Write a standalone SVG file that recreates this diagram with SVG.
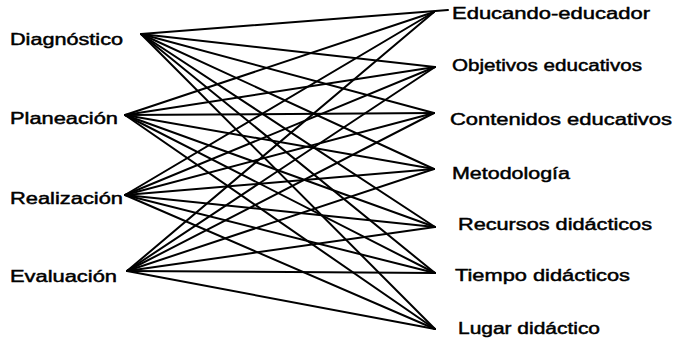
<svg xmlns="http://www.w3.org/2000/svg" width="674" height="338" viewBox="0 0 674 338">
<style>
text{font-family:"Liberation Sans",Arial,sans-serif;font-size:16px;fill:#000;stroke:#000;stroke-width:0.45;}
.c line{stroke:#000;stroke-width:2;stroke-linecap:round;}
</style>
<rect width="674" height="338" fill="#fff"/>
<g class="c" id="connectors">
<line x1="141" y1="34" x2="448" y2="10"/>
<line x1="141" y1="34" x2="435" y2="67"/>
<line x1="141" y1="34" x2="434" y2="113"/>
<line x1="141" y1="34" x2="434" y2="169"/>
<line x1="141" y1="34" x2="435" y2="227"/>
<line x1="141" y1="34" x2="435" y2="273"/>
<line x1="141" y1="34" x2="435" y2="329"/>
<line x1="125" y1="115" x2="434" y2="12"/>
<line x1="125" y1="115" x2="435" y2="67"/>
<line x1="125" y1="115" x2="434" y2="113"/>
<line x1="125" y1="115" x2="434" y2="169"/>
<line x1="125" y1="115" x2="435" y2="227"/>
<line x1="125" y1="115" x2="435" y2="273"/>
<line x1="125" y1="115" x2="435" y2="329"/>
<line x1="125" y1="195" x2="434" y2="12"/>
<line x1="125" y1="195" x2="435" y2="67"/>
<line x1="125" y1="195" x2="434" y2="113"/>
<line x1="125" y1="195" x2="434" y2="169"/>
<line x1="125" y1="195" x2="435" y2="227"/>
<line x1="125" y1="195" x2="435" y2="273"/>
<line x1="125" y1="195" x2="435" y2="329"/>
<line x1="127" y1="271" x2="434" y2="12"/>
<line x1="127" y1="271" x2="435" y2="67"/>
<line x1="127" y1="271" x2="434" y2="113"/>
<line x1="127" y1="271" x2="434" y2="169"/>
<line x1="127" y1="271" x2="435" y2="227"/>
<line x1="127" y1="271" x2="435" y2="273"/>
<line x1="127" y1="271" x2="435" y2="329"/>
</g>
<g id="diagnostico"><text x="10" y="45" textLength="113" lengthAdjust="spacingAndGlyphs">Diagnóstico</text></g>
<g id="planeacion"><text x="10" y="124" textLength="108" lengthAdjust="spacingAndGlyphs">Planeación</text></g>
<g id="realizacion"><text x="10" y="204" textLength="113" lengthAdjust="spacingAndGlyphs">Realización</text></g>
<g id="evaluacion"><text x="10" y="282" textLength="107" lengthAdjust="spacingAndGlyphs">Evaluación</text></g>
<g id="educando"><text x="452" y="19" textLength="198" lengthAdjust="spacingAndGlyphs">Educando-educador</text></g>
<g id="objetivos"><text x="452" y="71" textLength="190" lengthAdjust="spacingAndGlyphs">Objetivos educativos</text></g>
<g id="contenidos"><text x="450" y="125" textLength="222" lengthAdjust="spacingAndGlyphs">Contenidos educativos</text></g>
<g id="metodologia"><text x="452" y="179" textLength="118" lengthAdjust="spacingAndGlyphs">Metodología</text></g>
<g id="recursos"><text x="458" y="230" textLength="194" lengthAdjust="spacingAndGlyphs">Recursos didácticos</text></g>
<g id="tiempo"><text x="455" y="281" textLength="175" lengthAdjust="spacingAndGlyphs">Tiempo didácticos</text></g>
<g id="lugar"><text x="458" y="334" textLength="142" lengthAdjust="spacingAndGlyphs">Lugar didáctico</text></g>
</svg>
